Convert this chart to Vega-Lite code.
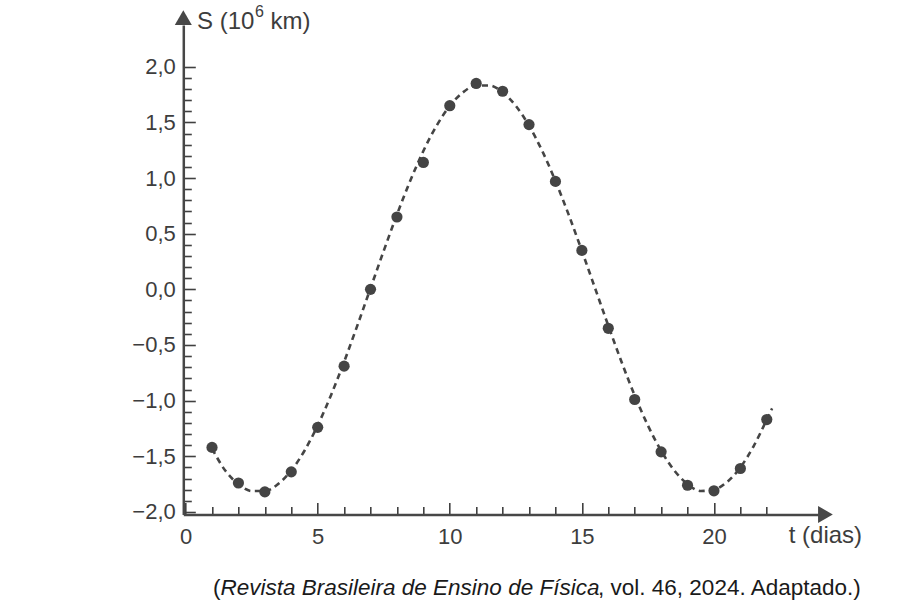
{
  "$schema": "https://vega.github.io/schema/vega-lite/v6.json",
  "width": 635,
  "height": 489.5,
  "autosize": {"type": "none"},
  "padding": {"left": 183.3, "top": 25, "right": 81.7, "bottom": 90.5},
  "background": "white",
  "config": {"view": {"stroke": null}, "font": "Liberation Sans"},
  "datasets": {
    "medidas": [
      {"t": 1, "S": -1.42}, {"t": 2, "S": -1.74}, {"t": 3, "S": -1.82}, {"t": 4, "S": -1.64},
      {"t": 5, "S": -1.24}, {"t": 6, "S": -0.69}, {"t": 7, "S": 0.0}, {"t": 8, "S": 0.65},
      {"t": 9, "S": 1.14}, {"t": 10, "S": 1.65}, {"t": 11, "S": 1.85}, {"t": 12, "S": 1.78},
      {"t": 13, "S": 1.48}, {"t": 14, "S": 0.97}, {"t": 15, "S": 0.35}, {"t": 16, "S": -0.35},
      {"t": 17, "S": -0.99}, {"t": 18, "S": -1.46}, {"t": 19, "S": -1.76}, {"t": 20, "S": -1.81},
      {"t": 21, "S": -1.61}, {"t": 22, "S": -1.17}
    ],
    "ajuste": [
      {"t": 1, "S": -1.43}, {"t": 1.5, "S": -1.628}, {"t": 2, "S": -1.75}, {"t": 2.5, "S": -1.812},
      {"t": 3, "S": -1.812}, {"t": 3.5, "S": -1.75}, {"t": 4, "S": -1.628}, {"t": 4.5, "S": -1.45},
      {"t": 5, "S": -1.223}, {"t": 5.5, "S": -0.953}, {"t": 6, "S": -0.651}, {"t": 6.5, "S": -0.326},
      {"t": 7, "S": 0.01}, {"t": 7.5, "S": 0.346}, {"t": 8, "S": 0.671}, {"t": 8.5, "S": 0.973},
      {"t": 9, "S": 1.243}, {"t": 9.5, "S": 1.47}, {"t": 10, "S": 1.648}, {"t": 10.5, "S": 1.77},
      {"t": 11, "S": 1.832}, {"t": 11.5, "S": 1.832}, {"t": 12, "S": 1.77}, {"t": 12.5, "S": 1.648},
      {"t": 13, "S": 1.47}, {"t": 13.5, "S": 1.243}, {"t": 14, "S": 0.973}, {"t": 14.5, "S": 0.671},
      {"t": 15, "S": 0.346}, {"t": 15.5, "S": 0.01}, {"t": 16, "S": -0.326}, {"t": 16.5, "S": -0.651},
      {"t": 17, "S": -0.953}, {"t": 17.5, "S": -1.223}, {"t": 18, "S": -1.45}, {"t": 18.5, "S": -1.628},
      {"t": 19, "S": -1.75}, {"t": 19.5, "S": -1.812}, {"t": 20, "S": -1.8}, {"t": 20.5, "S": -1.73},
      {"t": 21, "S": -1.6}, {"t": 21.5, "S": -1.41}, {"t": 22, "S": -1.17}, {"t": 22.2, "S": -1.07}
    ]
  },
  "layer": [
    {
      "data": {"name": "ajuste"},
      "mark": {"type": "line", "interpolate": "monotone", "strokeDash": [6, 4.5], "strokeWidth": 2.6, "color": "#454545"},
      "encoding": {
        "x": {
          "field": "t", "type": "quantitative",
          "scale": {"domain": [-0.087, 23.95], "nice": false, "zero": false},
          "axis": {
            "values": [0, 1, 2, 3, 4, 5, 6, 7, 8, 9, 10, 11, 12, 13, 14, 15, 16, 17, 18, 19, 20, 21, 22],
            "tickCount": 100,
            "title": null, "grid": false,
            "domainColor": "#474747", "domainWidth": 2.5,
            "tickColor": "#404040", "tickWidth": 1.6,
            "tickSize": {"condition": {"test": "datum.value % 5 === 0", "value": -12}, "value": -8},
            "labelExpr": "datum.value % 5 === 0 ? format(datum.value, 'd') : ''",
            "labelFont": "Liberation Sans", "labelFontSize": 22, "labelColor": "#3d3d3d",
            "labelPadding": 24, "labelFlush": false, "labelOverlap": false, "labelBound": false
          }
        },
        "y": {
          "field": "S", "type": "quantitative",
          "scale": {"domain": [-2.023, 2.375], "nice": false, "zero": false},
          "axis": {
            "values": [-2, -1.9, -1.8, -1.7, -1.6, -1.5, -1.4, -1.3, -1.2, -1.1, -1, -0.9, -0.8, -0.7, -0.6, -0.5, -0.4, -0.3, -0.2, -0.1, 0, 0.1, 0.2, 0.3, 0.4, 0.5, 0.6, 0.7, 0.8, 0.9, 1, 1.1, 1.2, 1.3, 1.4, 1.5, 1.6, 1.7, 1.8, 1.9, 2],
            "tickCount": 100,
            "title": null, "grid": false,
            "domainColor": "#474747", "domainWidth": 2.5,
            "tickColor": "#404040", "tickWidth": 1.6,
            "tickSize": {"condition": {"test": "abs(round(datum.value * 10)) % 5 === 0", "value": -12}, "value": -8},
            "labelExpr": "abs(round(datum.value * 10)) % 5 === 0 ? replace(replace(format(datum.value, '.1f'), '.', ','), '-', '\u2212') : ''",
            "labelFont": "Liberation Sans", "labelFontSize": 22, "labelColor": "#3d3d3d",
            "labelPadding": 20, "labelFlush": false, "labelOverlap": false, "labelBound": false
          }
        }
      }
    },
    {
      "data": {"name": "medidas"},
      "mark": {"type": "circle", "size": 125, "opacity": 1, "color": "#444444"},
      "encoding": {
        "x": {"field": "t", "type": "quantitative"},
        "y": {"field": "S", "type": "quantitative"}
      }
    },
    {
      "data": {"values": [{}]},
      "mark": {"type": "point", "shape": "triangle-up", "size": 289, "filled": true, "opacity": 1, "color": "#474747"},
      "encoding": {"x": {"datum": -0.087, "type": "quantitative"}, "y": {"datum": 2.442, "type": "quantitative"}}
    },
    {
      "data": {"values": [{}]},
      "mark": {"type": "point", "shape": "triangle-right", "size": 289, "filled": true, "opacity": 1, "color": "#474747"},
      "encoding": {"x": {"datum": 24.22, "type": "quantitative"}, "y": {"datum": -2.023, "type": "quantitative"}}
    },
    {
      "data": {"values": [{}]},
      "mark": {"type": "text", "text": "S (10", "align": "left", "baseline": "alphabetic", "fontSize": 24, "color": "#3d3d3d"},
      "encoding": {"x": {"datum": 0.43, "type": "quantitative"}, "y": {"datum": 2.343, "type": "quantitative"}}
    },
    {
      "data": {"values": [{}]},
      "mark": {"type": "text", "text": "6", "align": "left", "baseline": "alphabetic", "fontSize": 16, "color": "#3d3d3d"},
      "encoding": {"x": {"datum": 2.627, "type": "quantitative"}, "y": {"datum": 2.449, "type": "quantitative"}}
    },
    {
      "data": {"values": [{}]},
      "mark": {"type": "text", "text": "km)", "align": "left", "baseline": "alphabetic", "fontSize": 24, "color": "#3d3d3d"},
      "encoding": {"x": {"datum": 3.217, "type": "quantitative"}, "y": {"datum": 2.343, "type": "quantitative"}}
    },
    {
      "data": {"values": [{}]},
      "mark": {"type": "text", "text": "t (dias)", "align": "center", "baseline": "middle", "fontSize": 24, "color": "#3d3d3d"},
      "encoding": {"x": {"datum": 24.22, "type": "quantitative"}, "y": {"datum": -2.22, "type": "quantitative"}}
    },
    {
      "data": {"values": [{}]},
      "mark": {"type": "text", "text": "(", "align": "left", "baseline": "alphabetic", "fontSize": 22.5, "color": "#1a1a1a"},
      "encoding": {"x": {"datum": 1.037, "type": "quantitative"}, "y": {"datum": -2.747, "type": "quantitative"}}
    },
    {
      "data": {"values": [{}]},
      "mark": {"type": "text", "text": "Revista Brasileira de Ensino de Física", "align": "left", "baseline": "alphabetic", "fontSize": 22.5, "fontStyle": "italic", "color": "#1a1a1a"},
      "encoding": {"x": {"datum": 1.321, "type": "quantitative"}, "y": {"datum": -2.747, "type": "quantitative"}}
    },
    {
      "data": {"values": [{}]},
      "mark": {"type": "text", "text": ", vol. 46, 2024. Adaptado.)", "align": "left", "baseline": "alphabetic", "fontSize": 22.5, "color": "#1a1a1a"},
      "encoding": {"x": {"datum": 15.613, "type": "quantitative"}, "y": {"datum": -2.747, "type": "quantitative"}}
    }
  ]
}
